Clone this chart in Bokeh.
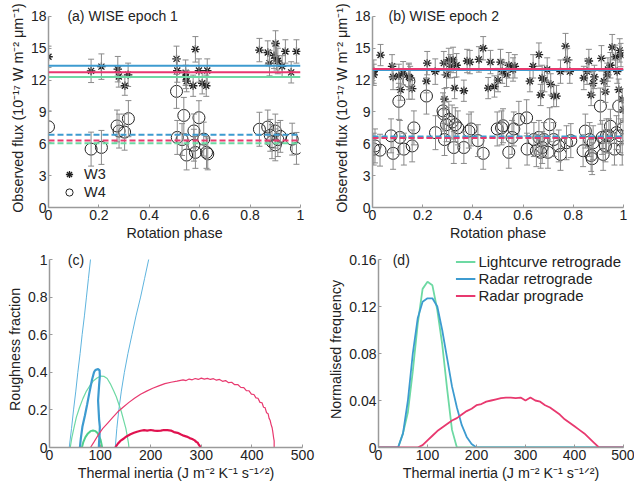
from bokeh.plotting import figure
from bokeh.models import (Range1d, FixedTicker, PrintfTickFormatter, Span, Whisker,
                          ColumnDataSource, Legend, LegendItem, TeeHead, Label)
from bokeh.layouts import column, row
from bokeh.embed import file_html
from bokeh.resources import INLINE

FONT = "Liberation Sans"
GREEN = "#6dd9a3"
GREEN_DK = "#4fcf8c"
BLUE = "#3d9bd0"
BLUE_LT = "#5fb4de"
RED = "#e8396f"
RED_DK = "#e0124f"

# ---------------- panel (a): WISE epoch 1 ----------------
a_w3_phase = [0.0, 0.169, 0.210, 0.275, 0.279, 0.303, 0.316, 0.508, 0.511, 0.544, 0.545, 0.548,
              0.574, 0.583, 0.597, 0.610, 0.626, 0.630, 0.837, 0.870, 0.877, 0.895, 0.901, 0.905,
              0.910, 0.927, 0.940, 0.963, 0.984]
a_w3_flux = [14.2, 12.87, 13.27, 13.03, 12.34, 11.47, 12.5, 14.0, 12.9, 12.7, 12.3, 11.9,
             11.47, 14.9, 12.9, 11.7, 11.47, 12.9, 14.83, 14.6, 13.6, 14.3, 15.45, 14.05,
             13.8, 13.3, 14.7, 12.73, 14.7]
a_w3_err = [1.0, 1.1, 1.2, 1.2, 1.0, 0.9, 1.1, 1.2, 1.1, 1.2, 1.1, 1.0,
            1.0, 1.2, 1.1, 1.0, 1.0, 1.1, 1.1, 1.1, 1.2, 1.2, 1.2, 1.1,
            1.2, 1.0, 1.1, 1.0, 1.1]
a_w4_phase = [0.0, 0.169, 0.210, 0.272, 0.280, 0.302, 0.317, 0.508, 0.511, 0.530, 0.537, 0.548,
              0.577, 0.577, 0.583, 0.597, 0.616, 0.627, 0.632, 0.837, 0.870, 0.880, 0.887, 0.900,
              0.900, 0.910, 0.920, 0.967, 0.984]
a_w4_flux = [7.6, 5.5, 5.66, 7.68, 7.2, 7.1, 8.37, 10.94, 6.6, 6.4, 8.67, 4.94,
             7.21, 5.87, 5.19, 8.46, 6.44, 5.19, 5.05, 7.37, 7.58, 6.8, 6.2, 7.2,
             5.9, 6.4, 6.7, 6.44, 5.57]
a_w4_err = [1.5, 1.6, 1.6, 1.5, 1.6, 1.7, 1.7, 1.6, 1.6, 1.5, 1.7, 1.4,
            1.6, 1.5, 1.5, 1.6, 1.6, 1.5, 1.5, 1.6, 1.6, 1.5, 1.6, 1.6,
            1.5, 1.6, 1.5, 1.5, 1.5]
a_fit_w3 = {"green": 12.3, "red": 12.75, "blue": 13.35}
a_fit_w4 = {"green": 6.05, "red": 6.3, "blue": 6.85}

# ---------------- panel (b): WISE epoch 2 ----------------
b_w3_phase = [0.005, 0.005, 0.032, 0.078, 0.082, 0.105, 0.112, 0.122, 0.145, 0.150, 0.158, 0.215,
              0.218, 0.250, 0.284, 0.287, 0.295, 0.304, 0.310, 0.321, 0.327, 0.335, 0.364, 0.377,
              0.388, 0.424, 0.441, 0.461, 0.470, 0.486, 0.500, 0.510, 0.517, 0.534, 0.543, 0.560,
              0.567, 0.627, 0.640, 0.663, 0.670, 0.676, 0.685, 0.696, 0.710, 0.722, 0.733, 0.749,
              0.769, 0.776, 0.786, 0.842, 0.855, 0.862, 0.871, 0.879, 0.884, 0.912, 0.922, 0.928,
              0.935, 0.938, 0.948, 0.955, 0.968, 0.975, 0.981, 0.985, 0.990, 0.995, 0.999]
b_w3_flux = [12.5, 12.8, 14.36, 13.3, 12.3, 12.4, 11.1, 12.65, 12.3, 12.2, 11.2, 11.9,
             13.6, 12.8, 13.6, 10.2, 12.5, 13.9, 13.3, 13.9, 11.25, 13.4, 11.0, 13.8,
             13.7, 13.95, 15.0, 11.25, 13.7, 11.4, 12.0, 13.7, 12.8, 12.5, 13.4, 13.0,
             13.3, 11.9, 13.3, 14.4, 10.6, 12.2, 12.0, 13.0, 11.6, 10.5, 10.5, 12.8,
             15.2, 13.9, 12.8, 12.2, 12.8, 13.8, 10.6, 11.7, 12.3, 14.05, 11.9, 10.9,
             12.5, 13.0, 13.4, 15.1, 14.2, 12.8, 11.1, 14.8, 14.36, 10.2, 9.2]
b_w3_err = [1.0, 1.1, 1.0, 1.1, 1.2, 1.1, 1.0, 1.1, 1.2, 1.1, 1.0, 1.1,
            1.1, 1.2, 1.1, 1.0, 1.2, 1.1, 1.1, 1.2, 1.0, 1.1, 1.0, 1.1,
            1.1, 1.2, 1.1, 1.0, 1.1, 1.0, 1.1, 1.2, 1.1, 1.1, 1.2, 1.1,
            1.1, 1.0, 1.1, 1.1, 1.0, 1.2, 1.1, 1.1, 1.0, 1.0, 1.0, 1.1,
            1.2, 1.1, 1.1, 1.1, 1.2, 1.1, 1.0, 1.1, 1.1, 1.2, 1.0, 1.0,
            1.1, 1.1, 1.2, 1.2, 1.1, 1.1, 1.0, 1.1, 1.1, 1.0, 1.0]
b_w4_phase = [0.005, 0.010, 0.030, 0.074, 0.082, 0.105, 0.109, 0.125, 0.145, 0.158, 0.165, 0.215,
              0.251, 0.281, 0.284, 0.287, 0.295, 0.304, 0.317, 0.324, 0.330, 0.340, 0.364, 0.384,
              0.393, 0.420, 0.441, 0.497, 0.514, 0.520, 0.543, 0.556, 0.563, 0.583, 0.614, 0.616,
              0.643, 0.653, 0.663, 0.670, 0.676, 0.683, 0.699, 0.706, 0.722, 0.742, 0.749, 0.773,
              0.790, 0.839, 0.848, 0.865, 0.871, 0.875, 0.879, 0.908, 0.915, 0.919, 0.928, 0.932,
              0.942, 0.948, 0.964, 0.972, 0.981, 0.988, 0.995, 0.999]
b_w4_flux = [5.5, 5.8, 5.4, 6.75, 5.1, 10.0, 6.6, 5.5, 11.9, 5.8, 7.5, 10.5,
             7.05, 9.1, 8.8, 6.4, 7.8, 8.3, 8.05, 5.65, 7.8, 7.5, 5.65, 7.2,
             7.4, 6.3, 5.1, 7.4, 7.5, 7.7, 5.2, 6.6, 7.4, 8.3, 8.45, 5.5,
             6.4, 5.35, 6.6, 5.2, 5.65, 6.4, 5.2, 7.8, 6.4, 5.8, 5.0, 6.1,
             6.3, 5.35, 7.2, 6.4, 4.9, 4.6, 6.1, 9.55, 6.6, 5.0, 5.8, 6.75,
             6.75, 7.65, 5.5, 7.05, 9.55, 6.75, 5.5, 7.5]
b_w4_err = [1.5, 1.6, 1.5, 1.6, 1.5, 1.7, 1.6, 1.5, 1.7, 1.5, 1.6, 1.7,
            1.6, 1.7, 1.6, 1.5, 1.6, 1.7, 1.6, 1.5, 1.6, 1.6, 1.5, 1.6,
            1.6, 1.5, 1.5, 1.6, 1.6, 1.6, 1.5, 1.6, 1.6, 1.7, 1.7, 1.5,
            1.6, 1.5, 1.6, 1.5, 1.5, 1.6, 1.5, 1.6, 1.6, 1.5, 1.5, 1.6,
            1.6, 1.5, 1.6, 1.6, 1.5, 1.5, 1.6, 1.7, 1.6, 1.5, 1.5, 1.6,
            1.6, 1.6, 1.5, 1.6, 1.7, 1.6, 1.5, 1.6]
b_fit_w3 = {"green": 12.95, "blue": 12.95, "red": 13.05}
b_fit_w4 = {"green": 6.6, "blue": 6.7, "red": 6.55}

# ---------------- panel (c): roughness vs thermal inertia contours ----------------
c_blue_thin1_x = [39, 43.5, 47.5, 52, 56, 60.5, 64.5, 69, 73, 77, 81]
c_blue_thin1_y = [0, 0.1, 0.2, 0.3, 0.4, 0.5, 0.6, 0.7, 0.8, 0.9, 1.0]
c_blue_thin2_x = [130, 133, 137, 142, 148, 155, 163, 171, 180, 188, 196]
c_blue_thin2_y = [0, 0.1, 0.2, 0.3, 0.4, 0.5, 0.6, 0.7, 0.8, 0.9, 1.0]
c_blue_thick_x = [60, 62, 65, 70, 74.5, 78, 81, 84, 86, 88, 90, 93, 96, 99, 99.5, 98, 96, 97, 98, 99.5, 99, 98, 97.5]
c_blue_thick_y = [0, 0.05, 0.11, 0.17, 0.23, 0.28, 0.32, 0.36, 0.38, 0.40, 0.41, 0.415, 0.417, 0.41,
                  0.38, 0.33, 0.25, 0.2, 0.15, 0.11, 0.07, 0.03, 0]
c_green_thin_x = [41, 44, 48, 53, 59, 66, 73, 80, 87, 94, 101, 108, 114, 120, 127, 132, 137, 142,
                  147, 151, 154, 156, 157]
c_green_thin_y = [0, 0.05, 0.10, 0.16, 0.21, 0.26, 0.30, 0.33, 0.355, 0.37, 0.38, 0.378, 0.367,
                  0.34, 0.30, 0.27, 0.23, 0.19, 0.14, 0.10, 0.055, 0.025, 0]
c_green_thick_x = [64, 67, 71, 76, 81, 86, 91, 95, 98, 101, 103, 104]
c_green_thick_y = [0, 0.03, 0.055, 0.075, 0.087, 0.09, 0.087, 0.077, 0.06, 0.04, 0.015, 0]
c_red_thin_x = [81, 88, 96, 105, 115, 125, 135, 146, 157, 168, 180, 192, 204, 216, 228, 240, 252,
                264, 270, 276, 282, 288, 294, 300, 306, 312, 318, 324, 330, 336, 342, 348, 354,
                360, 366, 372, 378, 384, 389, 394, 399, 404, 408, 412, 416, 420, 423, 426, 429,
                432, 434, 436, 438, 440, 441, 442, 443, 444, 444]
c_red_thin_y = [0, 0.03, 0.065, 0.10, 0.13, 0.16, 0.19, 0.215, 0.24, 0.262, 0.283, 0.30, 0.315,
                0.328, 0.34, 0.347, 0.353, 0.36, 0.356, 0.364, 0.36, 0.367, 0.362, 0.369, 0.364,
                0.368, 0.362, 0.366, 0.358, 0.362, 0.352, 0.356, 0.345, 0.347, 0.334, 0.335,
                0.32, 0.319, 0.303, 0.302, 0.284, 0.282, 0.264, 0.262, 0.24, 0.238, 0.214,
                0.212, 0.185, 0.18, 0.155, 0.145, 0.122, 0.105, 0.088, 0.07, 0.05, 0.035, 0]
c_red_thick_x = [130, 135, 140, 147, 153, 160, 167, 173, 180, 187, 193, 200, 207, 213, 220, 226,
                 233, 240, 246, 253, 259, 265, 271, 277, 282, 287, 290, 293, 295, 297, 298]
c_red_thick_y = [0, 0.02, 0.035, 0.048, 0.06, 0.07, 0.078, 0.084, 0.089, 0.092, 0.09, 0.093, 0.09,
                 0.088, 0.09, 0.093, 0.092, 0.09, 0.082, 0.078, 0.07, 0.063, 0.058, 0.05, 0.045,
                 0.038, 0.03, 0.025, 0.015, 0.008, 0]

# ---------------- panel (d): normalised frequency ----------------
d_ti = [0, 10, 20, 30, 40, 50, 60, 70, 80, 90, 100, 110, 120, 130, 140, 150, 160, 170, 180, 190,
        200, 210, 220, 230, 240, 250, 260, 270, 280, 290, 300, 310, 320, 330, 340, 350, 360, 370,
        380, 390, 400, 410, 420, 430, 440, 450, 460, 470, 480, 490, 500]
d_lc_retro = [0, 0, 0, 0, 0, 0.012, 0.03, 0.065, 0.105, 0.135, 0.141, 0.138, 0.117, 0.088, 0.05,
              0.015, 0, 0, 0, 0, 0, 0, 0, 0, 0, 0, 0, 0, 0, 0, 0, 0, 0, 0, 0, 0, 0, 0, 0, 0, 0,
              0, 0, 0, 0, 0, 0, 0, 0, 0, 0]
d_radar_retro = [0, 0, 0, 0, 0, 0.012, 0.04, 0.08, 0.11, 0.124, 0.127, 0.127, 0.12, 0.1, 0.076,
                 0.052, 0.034, 0.019, 0.009, 0.003, 0, 0, 0, 0, 0, 0, 0, 0, 0, 0, 0, 0, 0, 0, 0,
                 0, 0, 0, 0, 0, 0, 0, 0, 0, 0, 0, 0, 0, 0, 0, 0]
d_radar_pro = [0, 0, 0, 0, 0, 0, 0, 0, 0, 0.002, 0.006, 0.01, 0.014, 0.017, 0.02, 0.023, 0.025,
               0.028, 0.031, 0.033, 0.036, 0.037, 0.039, 0.040, 0.041, 0.042, 0.0425, 0.0425,
               0.042, 0.0425, 0.040, 0.0425, 0.040, 0.039, 0.036, 0.034, 0.031, 0.028, 0.024,
               0.021, 0.018, 0.015, 0.012, 0.008, 0.004, 0, 0, 0, 0, 0, 0]

phase_ticks = [0, 0.2, 0.4, 0.6, 0.8, 1]
flux_ticks = [0, 3, 6, 9, 12, 15, 18]
ti_ticks = [0, 100, 200, 300, 400, 500]
rough_ticks = [0, 0.2, 0.4, 0.6, 0.8, 1]
freq_ticks = [0, 0.04, 0.08, 0.12, 0.16]

FLUX_LABEL = "Observed flux (10\u207b\u00b9\u2077 W m\u207b\u00b2 \u03bcm\u207b\u00b9)"
TI_LABEL = "Thermal inertia (J m\u207b\u00b2 K\u207b\u00b9 s\u207b\u00b9\u141f\u00b2)"

# frames get 8 px of head-room above the top tick so the panel tags are not clipped;
# the axis line itself is bounded to the data limits
HEAD = 8.0


def make_fig(width, height, bl, br, bb, frame_h, xr, ylim, xt, yt, xlabel, ylabel):
    span = ylim[1] - ylim[0]
    ytop = ylim[1] + span * HEAD / (frame_h - HEAD)
    p = figure(width=width, height=height, output_backend="svg", toolbar_location=None,
               x_range=Range1d(*xr), y_range=Range1d(ylim[0], ytop),
               min_border_left=bl, min_border_right=br, min_border_top=8, min_border_bottom=bb)
    p.outline_line_color = None
    p.xgrid.visible = False
    p.ygrid.visible = False
    p.background_fill_color = "white"
    p.border_fill_color = "white"
    p.xaxis.ticker = FixedTicker(ticks=xt)
    p.yaxis.ticker = FixedTicker(ticks=yt)
    p.yaxis.bounds = ylim
    p.xaxis.formatter = PrintfTickFormatter(format="%g")
    p.yaxis.formatter = PrintfTickFormatter(format="%g")
    p.xaxis.axis_label = xlabel
    p.yaxis.axis_label = ylabel
    for ax in (p.xaxis[0], p.yaxis[0]):
        ax.axis_line_color = "#9a9a9a"
        ax.axis_line_width = 1.5
        ax.major_tick_line_color = "#9a9a9a"
        ax.major_tick_in = 3
        ax.major_tick_out = 0
        ax.minor_tick_line_color = None
        ax.major_label_text_font = FONT
        ax.major_label_text_font_size = "14px"
        ax.major_label_text_color = "#222222"
        ax.axis_label_text_font = FONT
        ax.axis_label_text_font_size = "14.3px"
        ax.axis_label_text_font_style = "normal"
        ax.axis_label_text_color = "#222222"
        ax.major_label_standoff = 2
        ax.axis_label_standoff = 2
    return p


def panel_tag(p, x, y, text):
    p.add_layout(Label(x=x, y=y, text=text, text_baseline="middle",
                       text_font=FONT, text_font_size="14px", text_color="#222222"))


def flux_panel(p, ph3, f3, e3, ph4, f4, e4, fit3, fit4, order):
    s3 = ColumnDataSource(dict(x=ph3, y=f3, up=[a + b for a, b in zip(f3, e3)],
                               lo=[a - b for a, b in zip(f3, e3)]))
    s4 = ColumnDataSource(dict(x=ph4, y=f4, up=[a + b for a, b in zip(f4, e4)],
                               lo=[a - b for a, b in zip(f4, e4)]))
    for s in (s4, s3):
        w = Whisker(source=s, base="x", upper="up", lower="lo", line_color="#8a8a8a",
                    line_width=1, level="glyph",
                    upper_head=TeeHead(size=6, line_color="#8a8a8a", line_width=1),
                    lower_head=TeeHead(size=6, line_color="#8a8a8a", line_width=1))
        p.add_layout(w)
    r4 = p.scatter("x", "y", source=s4, marker="circle", size=12, fill_color=None,
                   line_color="#222222", line_width=1)
    r3 = p.scatter("x", "y", source=s3, marker="asterisk", size=8.5, line_color="#222222",
                   line_width=1.3)
    cols = {"green": GREEN, "blue": BLUE, "red": RED}
    for k in order:
        p.add_layout(Span(location=fit3[k], dimension="width", line_color=cols[k], line_width=2))
        p.add_layout(Span(location=fit4[k], dimension="width", line_color=cols[k], line_width=2,
                          line_dash="6 3"))
    return r3, r4


# panel a  (canvas x 0..318, frame 48..300; y: 18 at 16, 0 at 209)
pa = make_fig(318, 243, 48, 18, 34, 201, (0, 1), (0, 18), phase_ticks, flux_ticks,
              "Rotation phase", FLUX_LABEL)
r3, r4 = flux_panel(pa, a_w3_phase, a_w3_flux, a_w3_err, a_w4_phase, a_w4_flux, a_w4_err,
                    a_fit_w3, a_fit_w4, ["green", "red", "blue"])
panel_tag(pa, 0.075, 18, "(a) WISE epoch 1")
leg_a = Legend(items=[LegendItem(label="W3", renderers=[r3]), LegendItem(label="W4", renderers=[r4])],
               location=(10, 6), border_line_color=None, background_fill_alpha=0,
               label_text_font=FONT, label_text_font_size="14.5px", label_text_color="#222222",
               glyph_width=22, glyph_height=18, label_height=18, spacing=0, padding=2, margin=0,
               label_standoff=4)
pa.add_layout(leg_a)

# panel b  (canvas x 318..634, frame 372..623)
pb = make_fig(316, 243, 54, 11, 34, 201, (0, 1), (0, 18), phase_ticks, flux_ticks,
              "Rotation phase", FLUX_LABEL)
flux_panel(pb, b_w3_phase, b_w3_flux, b_w3_err, b_w4_phase, b_w4_flux, b_w4_err,
           b_fit_w3, b_fit_w4, ["green", "blue", "red"])
panel_tag(pb, 0.064, 18, "(b) WISE epoch 2")

# panel c  (canvas y 243..486; 1 at 259, 0 at 447; x 49..302)
pc = make_fig(318, 243, 49, 16, 39, 196, (0, 500), (0, 1), ti_ticks, rough_ticks,
              TI_LABEL, "Roughness fraction")
pc.line(c_blue_thin1_x, c_blue_thin1_y, line_color=BLUE_LT, line_width=1)
pc.line(c_blue_thin2_x, c_blue_thin2_y, line_color=BLUE_LT, line_width=1)
pc.line(c_green_thin_x, c_green_thin_y, line_color=GREEN, line_width=1.2)
pc.line(c_green_thick_x, c_green_thick_y, line_color=GREEN_DK, line_width=2)
pc.line(c_blue_thick_x, c_blue_thick_y, line_color=BLUE, line_width=2.2)
pc.line(c_red_thin_x, c_red_thin_y, line_color=RED, line_width=1.2)
pc.line(c_red_thick_x, c_red_thick_y, line_color=RED_DK, line_width=2.2)
panel_tag(pc, 36, 1, "(c)")

# panel d  (frame x 378..623)
pd_ = make_fig(316, 243, 60, 11, 39, 196, (0, 500), (0, 0.16), ti_ticks, freq_ticks,
               TI_LABEL, "Normalised frequency")
rg = pd_.line(d_ti, d_lc_retro, line_color=GREEN, line_width=1.8)
rb = pd_.line(d_ti, d_radar_retro, line_color=BLUE, line_width=1.8)
rr = pd_.line(d_ti, d_radar_pro, line_color=RED, line_width=1.8)
panel_tag(pd_, 29, 0.16, "(d)")
leg_d = Legend(items=[LegendItem(label="Lightcurve retrograde", renderers=[rg]),
                      LegendItem(label="Radar retrograde", renderers=[rb]),
                      LegendItem(label="Radar prograde", renderers=[rr])],
               location="top_right", border_line_color=None, background_fill_alpha=0,
               label_text_font=FONT, label_text_font_size="15px", label_text_color="#222222",
               glyph_width=20, glyph_height=17, label_height=17, spacing=0, padding=2, margin=2,
               label_standoff=3)
pd_.add_layout(leg_d)

layout = column(row(pa, pb), row(pc, pd_))
open("out.html", "w").write(file_html(layout, INLINE))
